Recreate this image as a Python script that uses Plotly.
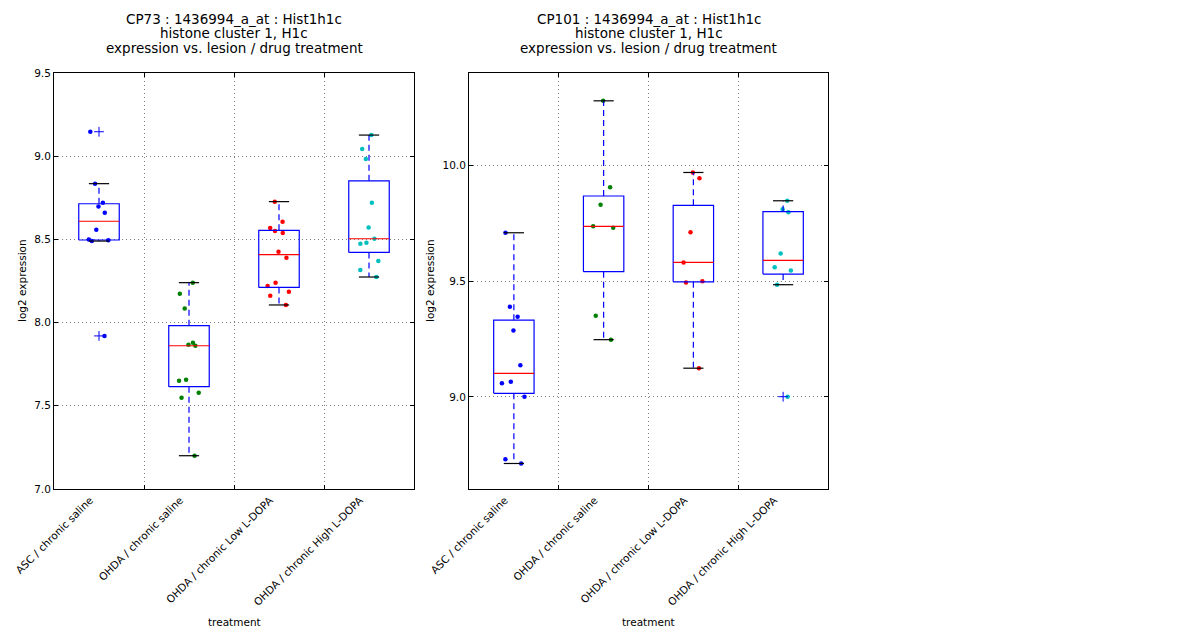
import numpy as np
import plotly.graph_objects as go

# ---------------------------------------------------------
# data
# ---------------------------------------------------------
CATEGORIES = [
    "ASC / chronic saline",
    "OHDA / chronic saline",
    "OHDA / chronic Low L-DOPA",
    "OHDA / chronic High L-DOPA",
]

# CP73
CP73_ASC_SALINE = [9.147, 8.835, 8.72, 8.697, 8.66, 8.558, 8.50, 8.495, 8.49, 7.92]
CP73_OHDA_SALINE = [8.24, 8.174, 8.084, 7.879, 7.867, 7.861, 7.657, 7.651, 7.579, 7.549, 7.20]
CP73_OHDA_LOW = [8.727, 8.606, 8.569, 8.550, 8.538, 8.426, 8.390, 8.240, 8.220, 8.186, 8.162, 8.106]
CP73_OHDA_HIGH = [9.127, 9.043, 8.983, 8.721, 8.571, 8.504, 8.480, 8.474, 8.370, 8.316, 8.274]

# CP101
CP101_ASC_SALINE = [9.708, 9.389, 9.346, 9.286, 9.137, 9.066, 9.059, 9.001, 8.731, 8.713]
CP101_OHDA_SALINE = [10.277, 9.904, 9.829, 9.736, 9.730, 9.350, 9.247]
CP101_OHDA_LOW = [9.968, 9.943, 9.710, 9.580, 9.499, 9.494, 9.124]
CP101_OHDA_HIGH = [9.846, 9.809, 9.796, 9.619, 9.559, 9.545, 9.484, 9.001]

CP73_TITLE = ["CP73 : 1436994_a_at : Hist1h1c", "histone cluster 1, H1c",
              "expression vs. lesion / drug treatment"]
CP101_TITLE = ["CP101 : 1436994_a_at : Hist1h1c", "histone cluster 1, H1c",
               "expression vs. lesion / drug treatment"]

CP73_YTICKS = [7.0, 7.5, 8.0, 8.5, 9.0, 9.5]
CP101_YTICKS = [9.0, 9.5, 10.0]

# ---------------------------------------------------------
# style
# ---------------------------------------------------------
POINT_COLORS = ["#0000ff", "#008000", "#ff0000", "#00bfbf"]
BOX_COLOR = "#0000ff"
MEDIAN_COLOR = "#ff0000"
CAP_COLOR = "#000000"
GRID_COLOR = "#7f7f7f"
FONT = "DejaVu Sans"
PAGE_PAD = 8            # default body margin of the html page
W, H = 1200 - PAGE_PAD, 640 - PAGE_PAD
BOX_W = 0.45
TICK_SIZE = 10.5
TITLE_SIZE = 13.5


def box_stats(vals):
    v = np.sort(np.asarray(vals, dtype=float))
    q1, med, q3 = np.percentile(v, [25, 50, 75])
    iqr = q3 - q1
    lo_f, hi_f = q1 - 1.5 * iqr, q3 + 1.5 * iqr
    inside = v[(v >= lo_f) & (v <= hi_f)]
    fliers = v[(v < lo_f) | (v > hi_f)]
    return q1, med, q3, inside.min(), inside.max(), fliers


def add_panel(fig, groups, xa, ya):
    for i, (vals, pcol) in enumerate(zip(groups, POINT_COLORS)):
        c = i + 1
        q1, med, q3, lo, hi, fliers = box_stats(vals)
        common = dict(xaxis=xa, yaxis=ya, showlegend=False, hoverinfo="skip")
        # box outline
        fig.add_trace(go.Scatter(
            x=[c - BOX_W / 2, c + BOX_W / 2, c + BOX_W / 2, c - BOX_W / 2, c - BOX_W / 2],
            y=[q1, q1, q3, q3, q1], mode="lines",
            line=dict(color=BOX_COLOR, width=1.2), **common))
        # whiskers
        fig.add_trace(go.Scatter(
            x=[c, c, None, c, c], y=[q3, hi, None, q1, lo], mode="lines",
            line=dict(color=BOX_COLOR, width=1.2, dash="6px,4px"), **common))
        # caps
        fig.add_trace(go.Scatter(
            x=[c - BOX_W / 4, c + BOX_W / 4, None, c - BOX_W / 4, c + BOX_W / 4],
            y=[hi, hi, None, lo, lo], mode="lines",
            line=dict(color=CAP_COLOR, width=1.2), **common))
        # median
        fig.add_trace(go.Scatter(
            x=[c - BOX_W / 2, c + BOX_W / 2], y=[med, med], mode="lines",
            line=dict(color=MEDIAN_COLOR, width=1.2), **common))
        # fliers
        if len(fliers):
            fig.add_trace(go.Scatter(
                x=[c] * len(fliers), y=fliers, mode="markers",
                marker=dict(symbol="cross-thin", size=7,
                            line=dict(color=BOX_COLOR, width=1)), **common))
        # jittered points (plotly's own jitter, box itself hidden)
        fig.add_trace(go.Box(
            x=[c] * len(vals), y=vals, boxpoints="all", jitter=0.7, pointpos=0,
            width=BOX_W, line=dict(width=0, color=pcol),
            fillcolor="rgba(0,0,0,0)", marker=dict(color=pcol, size=4.5),
            xaxis=xa, yaxis=ya, showlegend=False, hoverinfo="y"))


fig = go.Figure()
add_panel(fig, [CP73_ASC_SALINE, CP73_OHDA_SALINE, CP73_OHDA_LOW, CP73_OHDA_HIGH], "x", "y")
add_panel(fig, [CP101_ASC_SALINE, CP101_OHDA_SALINE, CP101_OHDA_LOW, CP101_OHDA_HIGH], "x2", "y2")

# pixel layout of the two axes boxes (screen pixels, shifted by the page pad)
L1, R1 = 54 - PAGE_PAD, 414 - PAGE_PAD
L2, R2 = 469 - PAGE_PAD, 828 - PAGE_PAD
TOP, BOT = 73 - PAGE_PAD, 489 - PAGE_PAD
ydom = [1 - BOT / H, 1 - TOP / H]


def xaxis_cfg(l, r, anchor):
    return dict(
        domain=[l / W, r / W], anchor=anchor, range=[0.5, 4.5], automargin=False,
        tickmode="array", tickvals=[1, 2, 3, 4], ticktext=CATEGORIES,
        tickangle=-45, ticks="", ticklabelshift=-9, showgrid=False, zeroline=False,
        showline=True, linecolor="black", linewidth=1, mirror="ticks",
        tickfont=dict(size=TICK_SIZE, color="black"),
        minor=dict(tickmode="array", tickvals=[1.5, 2.5, 3.5], ticks="inside",
                   ticklen=4, tickcolor="black", showgrid=True,
                   gridcolor=GRID_COLOR, griddash="1px,3px", gridwidth=1),
    )


def yaxis_cfg(rng, ticks, anchor):
    return dict(
        domain=ydom, anchor=anchor, range=rng, automargin=False, tickmode="array",
        tickvals=ticks, tickformat=".1f", ticks="inside", ticklen=4,
        tickcolor="black", showgrid=True, gridcolor=GRID_COLOR,
        griddash="1px,3px", gridwidth=1, zeroline=False, showline=True,
        linecolor="black", linewidth=1, mirror="ticks",
        tickfont=dict(size=TICK_SIZE, color="black"),
    )


annotations = []
for title, cx in [(CP73_TITLE, (L1 + R1) / 2), (CP101_TITLE, (L2 + R2) / 2)]:
    for k, line in enumerate(title):
        annotations.append(dict(
            text=line, x=cx / W, y=1 - (19 - PAGE_PAD + 14.5 * k) / H,
            xref="paper", yref="paper",
            xanchor="center", yanchor="middle", showarrow=False,
            font=dict(size=TITLE_SIZE, color="black")))
for cx in [(L1 + R1) / 2, (L2 + R2) / 2]:
    annotations.append(dict(
        text="treatment", x=cx / W, y=1 - (622 - PAGE_PAD) / H, xref="paper", yref="paper",
        xanchor="center", yanchor="middle", showarrow=False,
        font=dict(size=TICK_SIZE, color="black")))
for px in [22, 430]:
    annotations.append(dict(
        text="log2 expression", x=(px - PAGE_PAD) / W, y=1 - ((TOP + BOT) / 2) / H,
        xref="paper", yref="paper", xanchor="center", yanchor="middle",
        textangle=-90, showarrow=False, font=dict(size=TICK_SIZE, color="black")))

fig.update_layout(
    width=W, height=H,
    margin=dict(l=0, r=0, t=0, b=0, autoexpand=False),
    paper_bgcolor="white", plot_bgcolor="white",
    font=dict(family=FONT, color="black"),
    xaxis=xaxis_cfg(L1, R1, "y"),
    yaxis=yaxis_cfg([7.0, 9.5], CP73_YTICKS, "x"),
    xaxis2=xaxis_cfg(L2, R2, "y2"),
    yaxis2=yaxis_cfg([8.603, 10.397], CP101_YTICKS, "x2"),
    annotations=annotations,
    showlegend=False,
)

fig.write_html("out.html")
